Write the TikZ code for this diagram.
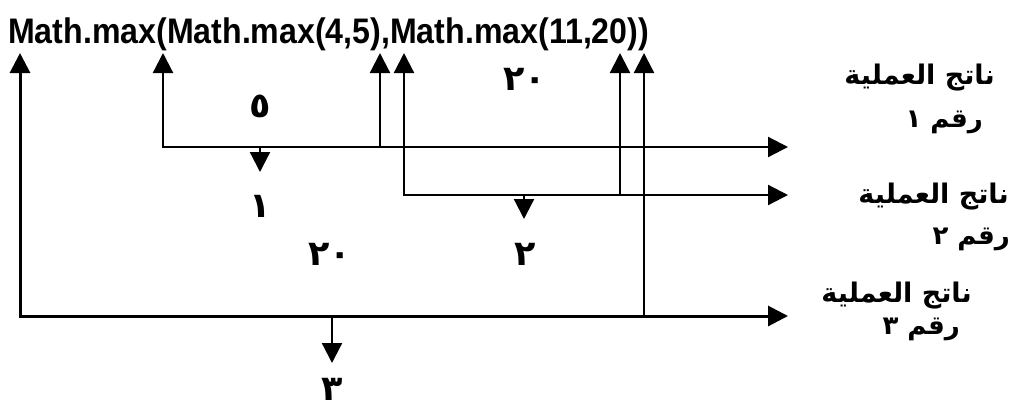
\documentclass[tikz,border=0pt]{standalone}
\usepackage{fontspec}
\usepackage{graphicx}
\setmainfont{Liberation Sans}
\newfontfamily\arabicfont[Script=Arabic]{DejaVu Sans}
\TeXXeTstate=1
\usetikzlibrary{arrows.meta}
\begin{document}
\begin{tikzpicture}[x=1pt,y=-1pt,
  conn/.style={line width=2.2pt,line cap=rect,-{Triangle[width=20pt,length=20pt]}},
  outer/.style={conn,line width=3pt},
  digit/.style={font=\arabicfont\bfseries\fontsize{35}{35}\selectfont,inner sep=0pt,anchor=base},
  lab/.style={font=\arabicfont\bfseries\fontsize{27}{27}\selectfont,inner sep=0pt,anchor=base east},
  labnum/.style={font=\arabicfont\bfseries\fontsize{26}{26}\selectfont,inner sep=0pt,anchor=base east}]
\useasboundingbox (0,0) rectangle (1011,408);
\node[anchor=base west,inner sep=0pt,font=\bfseries\fontsize{35.5}{36}\selectfont] (title) at (8,43) {\scalebox{0.905}[1]{Math.max(Math.max(4,5),Math.max(11,20))}};
% tips under the title
\coordinate (t1) at (20,53);
\coordinate (t2) at (163,53);
\coordinate (t3) at (380,53);
\coordinate (t4) at (404,53);
\coordinate (t5) at (620,53);
\coordinate (t6) at (644,53);
% corners
\coordinate (b1) at (20,316);
\coordinate (b2) at (163,147);
\coordinate (b3) at (380,147);
\coordinate (b4) at (404,195);
\coordinate (b5) at (620,195);
\coordinate (b6) at (644,316);
% right ends
\coordinate (e1) at (788,147);
\coordinate (e2) at (788,195);
\coordinate (e3) at (788,316);
% drops
\coordinate (d1s) at (260,147);
\coordinate (d1e) at (260,172);
\coordinate (d2s) at (524,195);
\coordinate (d2e) at (524,219);
\coordinate (d3s) at (332,316);
\coordinate (d3e) at (332,363);
% operation 1
\draw[conn] (b2) -- (t2);
\draw[conn] (b3) -- (t3);
\draw[conn] (b2) -- (e1);
\draw[conn] (d1s) -- (d1e);
% operation 2
\draw[conn] (b4) -- (t4);
\draw[conn] (b5) -- (t5);
\draw[conn] (b4) -- (e2);
\draw[conn] (d2s) -- (d2e);
% operation 3
\draw[outer] (b1) -- (t1);
\draw[conn] (b6) -- (t6);
\draw[outer] (b1) -- (e3);
\draw[conn] (d3s) -- (d3e);
% values
\node[digit] (v5) at (260,117) {٥};
\node[digit] (v20a) at (525,90) {٢٠};
\node[digit] (n1) at (260,217) {١};
\node[digit] (v20b) at (330,265) {٢٠};
\node[digit] (n2) at (525,265) {٢};
\node[digit] (n3) at (332,400) {٣};
% labels
\node[lab] (l1a) at (995,84) {\beginR ناتج العملية\endR};
\node[labnum] (l1b) at (983,127) {\beginR رقم ١\endR};
\node[lab] (l2a) at (1009,203) {\beginR ناتج العملية\endR};
\node[labnum] (l2b) at (1010,244) {\beginR رقم ٢\endR};
\node[lab] (l3a) at (972,302) {\beginR ناتج العملية\endR};
\node[labnum] (l3b) at (960,334) {\beginR رقم ٣\endR};
\end{tikzpicture}
\end{document}
